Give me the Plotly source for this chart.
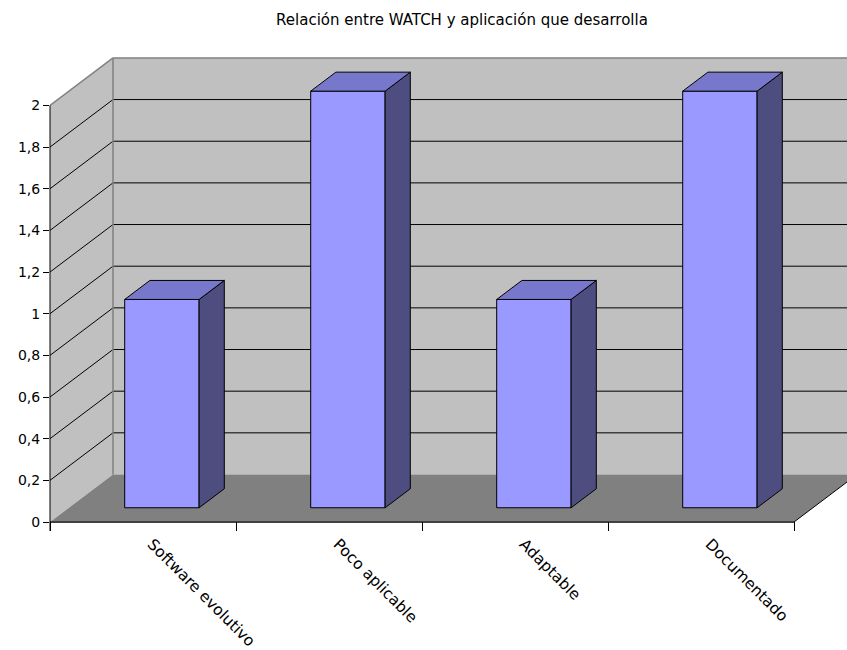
import plotly.graph_objects as go

# ---------------- data ----------------
categories = ["Software evolutivo", "Poco aplicable", "Adaptable", "Documentado"]
values = [1, 2, 1, 2]
y_ticks = [0, 0.2, 0.4, 0.6, 0.8, 1, 1.2, 1.4, 1.6, 1.8, 2]
y_tick_labels = ["0", "0,2", "0,4", "0,6", "0,8", "1", "1,2", "1,4", "1,6", "1,8", "2"]
title_text = "Relación entre WATCH y aplicación que desarrolla"

# ---------------- geometry / style ----------------
W, H = 847, 650
PX_X0 = 50        # pixel where category axis starts
PX_CAT = 186      # pixels per category
PX_Y0 = 522       # pixel of value 0 (front)
PX_UNIT = 208.3   # pixels per value unit
PX_BOTTOM = 531
PX_TOP = 40
DX = 63 / PX_CAT      # depth offset in x data units
DY = 47.5 / PX_UNIT   # depth offset in y data units
BAR_W = 0.4
Z0, Z1 = 0.3, 0.7
n = len(categories)
YMAX = y_ticks[-1]

x_range = [0, (W - PX_X0) / PX_CAT]
y_range = [-(PX_BOTTOM - PX_Y0) / PX_UNIT, (PX_Y0 - PX_TOP) / PX_UNIT]
XMAX = x_range[1]

WALL = "#c0c0c0"
FLOOR = "#808080"
EDGE = "#808080"
FRONT = "#9999ff"
TOP = "#7777cc"
SIDE = "#4d4d80"
FONT = "DejaVu Sans, Verdana, sans-serif"

shapes = []
# left wall
shapes.append(dict(type="path", xref="x", yref="y", layer="below",
                   path=f"M 0,0 L {DX},{DY} L {DX},{YMAX+DY} L 0,{YMAX} Z",
                   fillcolor=WALL, line=dict(width=0)))
# back wall
shapes.append(dict(type="rect", xref="x", yref="y", layer="below",
                   x0=DX, x1=XMAX + 1, y0=DY, y1=YMAX + DY,
                   fillcolor=WALL, line=dict(width=0)))
# floor
shapes.append(dict(type="path", xref="x", yref="y", layer="below",
                   path=f"M 0,0 L {n},0 L {n+DX},{DY} L {DX},{DY} Z",
                   fillcolor=FLOOR, line=dict(width=0)))
# gridlines
for v in y_ticks[1:-1]:
    shapes.append(dict(type="line", xref="x", yref="y", layer="below",
                       x0=0, y0=v, x1=DX, y1=v + DY, line=dict(color="black", width=1)))
    shapes.append(dict(type="line", xref="x", yref="y", layer="below",
                       x0=DX, y0=v + DY, x1=XMAX + 1, y1=v + DY, line=dict(color="black", width=1)))
# wall edges
shapes.append(dict(type="line", xref="x", yref="y", layer="below",
                   x0=DX, y0=DY, x1=DX, y1=YMAX + DY, line=dict(color=EDGE, width=1.5)))
shapes.append(dict(type="line", xref="x", yref="y", layer="below",
                   x0=DX, y0=YMAX + DY, x1=XMAX + 1, y1=YMAX + DY, line=dict(color=EDGE, width=1.5)))
shapes.append(dict(type="line", xref="x", yref="y", layer="below",
                   x0=0, y0=YMAX, x1=DX, y1=YMAX + DY, line=dict(color=EDGE, width=1.5)))
# floor edges
shapes.append(dict(type="line", xref="x", yref="y", layer="below",
                   x0=0, y0=0, x1=n, y1=0, line=dict(color="#404040", width=2)))
shapes.append(dict(type="line", xref="x", yref="y", layer="below",
                   x0=n, y0=0, x1=n + DX, y1=DY, line=dict(color="black", width=1)))
# value axis line
shapes.append(dict(type="line", xref="paper", yref="y", layer="above",
                   x0=0, x1=0, y0=y_range[0], y1=YMAX, line=dict(color="black", width=1)))

fig = go.Figure()

# side and top faces
for i, v in enumerate(values):
    xl = i + 0.5 - BAR_W / 2
    xr = i + 0.5 + BAR_W / 2
    side_x = [xr + Z0 * DX, xr + Z1 * DX, xr + Z1 * DX, xr + Z0 * DX, xr + Z0 * DX]
    side_y = [Z0 * DY, Z1 * DY, v + Z1 * DY, v + Z0 * DY, Z0 * DY]
    fig.add_trace(go.Scatter(x=side_x, y=side_y, mode="lines", fill="toself",
                             fillcolor=SIDE, line=dict(color="black", width=1),
                             hoverinfo="skip", showlegend=False))
    top_x = [xl + Z0 * DX, xr + Z0 * DX, xr + Z1 * DX, xl + Z1 * DX, xl + Z0 * DX]
    top_y = [v + Z0 * DY, v + Z0 * DY, v + Z1 * DY, v + Z1 * DY, v + Z0 * DY]
    fig.add_trace(go.Scatter(x=top_x, y=top_y, mode="lines", fill="toself",
                             fillcolor=TOP, line=dict(color="black", width=1),
                             hoverinfo="skip", showlegend=False))

# front faces
fig.add_trace(go.Bar(
    x=[i + 0.5 + Z0 * DX for i in range(n)],
    y=values,
    base=[Z0 * DY] * n,
    width=BAR_W,
    marker=dict(color=FRONT, line=dict(color="black", width=1)),
    hoverinfo="skip", showlegend=False,
))

fig.update_layout(
    width=W, height=H,
    margin=dict(l=PX_X0, r=0, t=PX_TOP, b=H - PX_BOTTOM),
    paper_bgcolor="white", plot_bgcolor="white",
    shapes=shapes,
    showlegend=False,
    font=dict(family=FONT, size=14, color="black"),
    title=dict(text=title_text, x=462 / W, xanchor="center", xref="container",
               y=1 - 20 / H, yanchor="middle", yref="container",
               font=dict(family=FONT, size=15, color="black")),
    xaxis=dict(range=x_range, showgrid=False, zeroline=False, showline=False,
               tickmode="array", tickvals=[i + 0.5 for i in range(n)], ticktext=categories,
               tickangle=45, ticks="", ticklabelshift=9,
               tickfont=dict(family=FONT, size=15.5, color="black"),
               minor=dict(ticks="inside", ticklen=9, tickcolor="black", tickwidth=1,
                          tick0=0, dtick=1, showgrid=False),
               fixedrange=True),
    yaxis=dict(range=y_range, showgrid=False, zeroline=False, showline=False,
               tickmode="array", tickvals=y_ticks, ticktext=y_tick_labels,
               ticks="outside", ticklen=6, tickcolor="black", fixedrange=True),
)

fig.write_html("out.html")
